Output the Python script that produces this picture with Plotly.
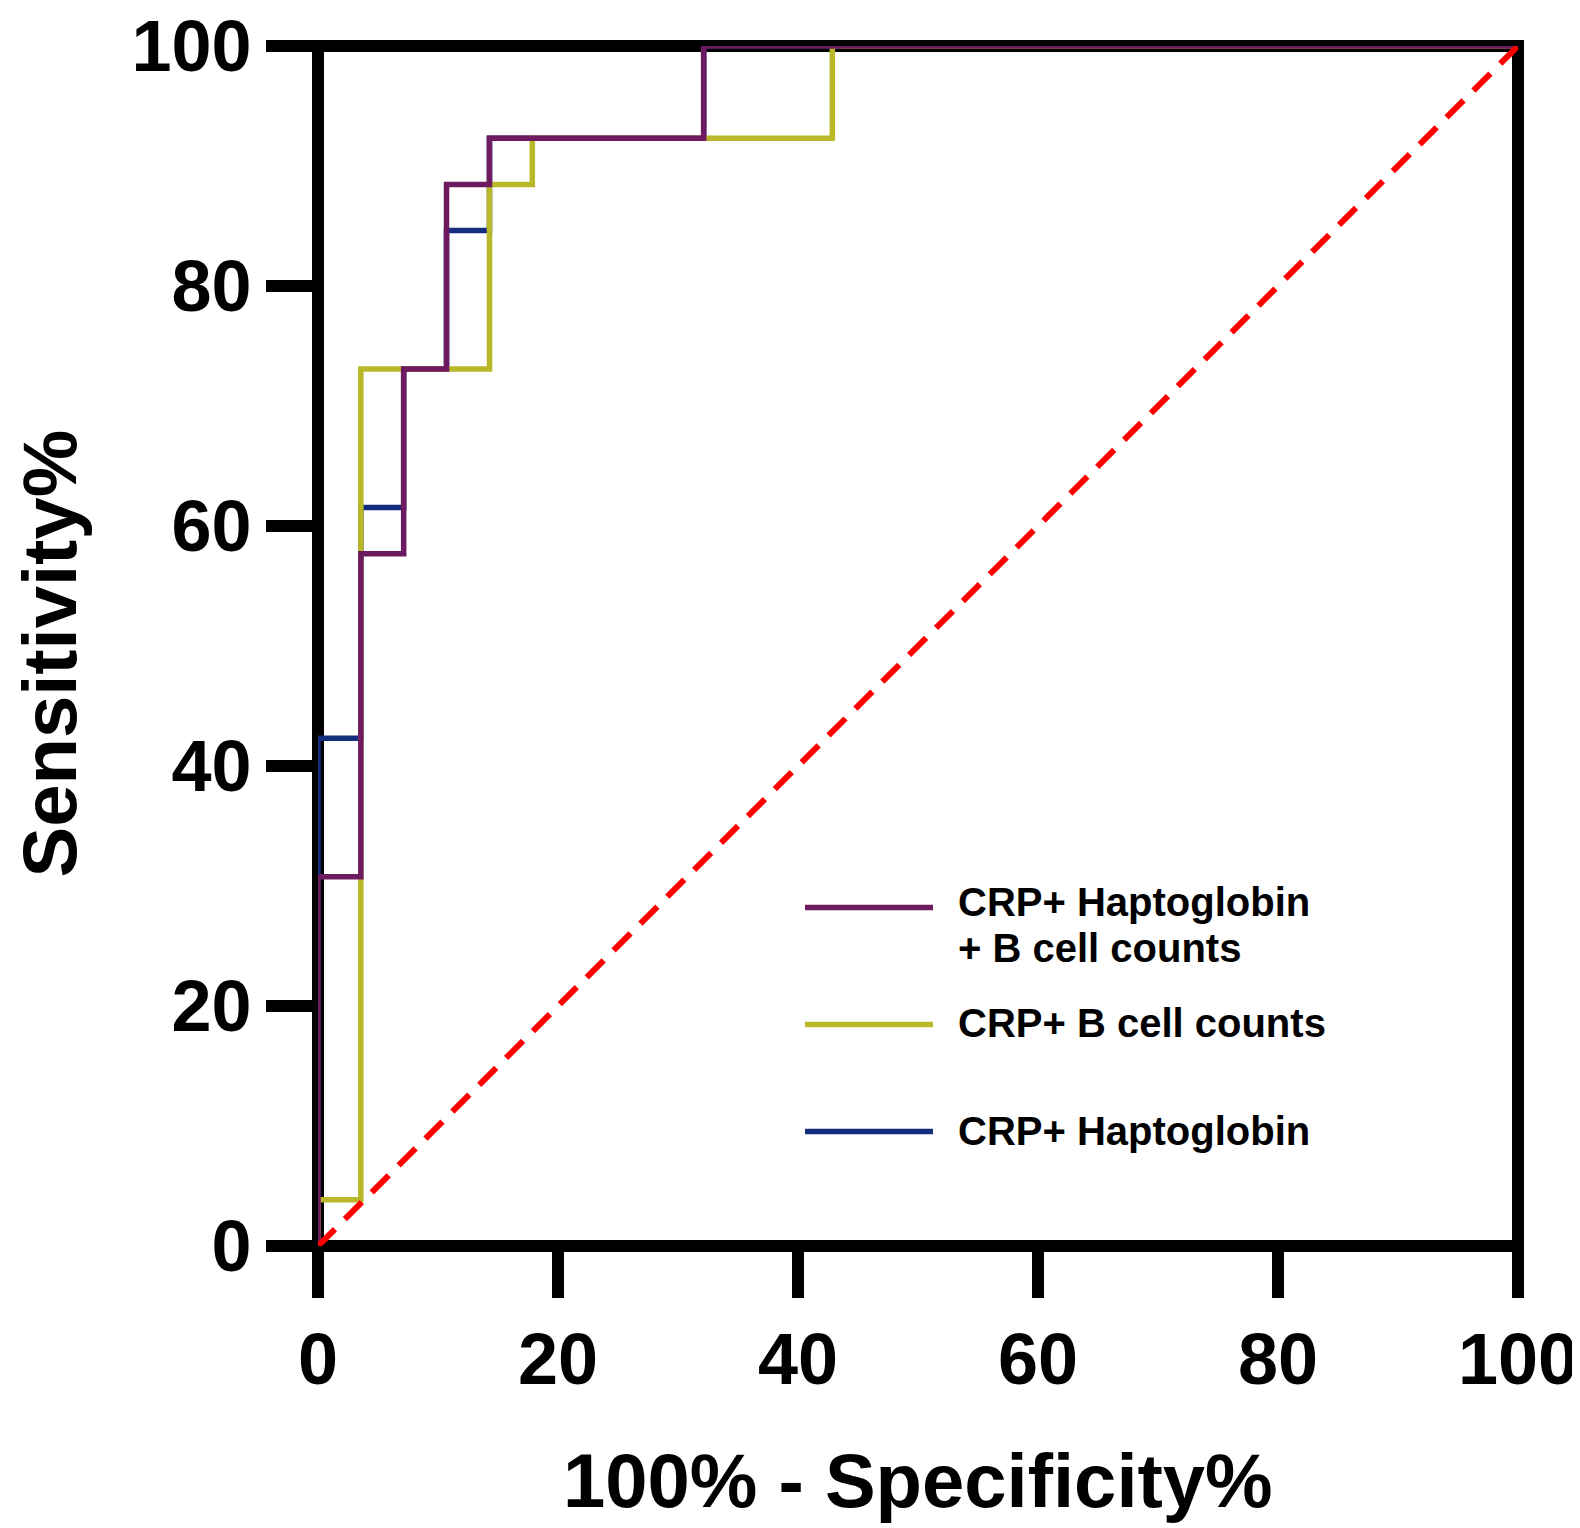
import plotly.graph_objects as go

# ROC step points (100% - Specificity %, Sensitivity %)
fpr_all = [0, 0, 3.57, 7.14, 10.71, 14.29, 32.14, 100]
tpr_all = [0, 30.77, 57.69, 73.08, 88.46, 92.31, 100, 100]

fpr_crp_b = [0, 0, 3.57, 14.29, 17.86, 42.86, 100]
tpr_crp_b = [0, 3.85, 73.08, 88.46, 92.31, 100, 100]

fpr_crp_h = [0, 0, 3.57, 7.14, 10.71, 14.29, 32.14, 100]
tpr_crp_h = [0, 42.31, 61.54, 73.08, 84.62, 92.31, 100, 100]

ref_x = [0, 100]
ref_y = [0, 100]

tick_vals = [0, 20, 40, 60, 80, 100]
tick_text = ["0", "20", "40", "60", "80", "100"]

colors = ["#6E1A60", "#B9B829", "#142D7D"]

FONT = "Liberation Sans, Arial, sans-serif"

fig = go.Figure()
fig.add_trace(go.Scatter(x=fpr_crp_h, y=tpr_crp_h, mode="lines", line=dict(color=colors[2], width=5.5, shape="hv"), showlegend=False))
fig.add_trace(go.Scatter(x=fpr_crp_b, y=tpr_crp_b, mode="lines", line=dict(color=colors[1], width=5.5, shape="hv"), showlegend=False))
fig.add_trace(go.Scatter(x=fpr_all, y=tpr_all, mode="lines", line=dict(color=colors[0], width=5.5, shape="hv"), showlegend=False))
fig.add_trace(go.Scatter(x=ref_x, y=ref_y, mode="lines", line=dict(color="#FF0000", width=6, dash="24px,14px"), showlegend=False))

axis_common = dict(
    range=[0, 100], tickvals=tick_vals, ticktext=tick_text,
    ticks="outside", ticklen=51, tickwidth=12, tickcolor="black",
    showline=False, showgrid=False, zeroline=False,
    ticklabeloverflow="allow", automargin=False,
    tickfont=dict(family=FONT, size=72, color="black", weight="bold"),
)

fig.update_layout(
    width=1580, height=1528,
    margin=dict(l=310, r=70, t=38, b=290, pad=0, autoexpand=False),
    paper_bgcolor="white", plot_bgcolor="white",
    xaxis=dict(**axis_common),
    yaxis=dict(**axis_common),
    showlegend=False,
)

# frame around the plotting area
fig.add_shape(type="rect", xref="paper", yref="paper", x0=0, x1=1, y0=0, y1=1,
              line=dict(color="black", width=12), layer="below")

def px2x(px):
    return (px - 310) / 1200.0

def py2y(py):
    return (1237.5 - py) / 1200.0

# legend drawn manually
legend_rows = [
    (899, [(893, "CRP+ Haptoglobin"), (939, "+ B cell counts")]),
    (1016, [(1014, "CRP+ B cell counts")]),
    (1123, [(1122, "CRP+ Haptoglobin")]),
]
for i, (ly, texts) in enumerate(legend_rows):
    fig.add_shape(type="line", xref="paper", yref="paper",
                  x0=px2x(797), x1=px2x(925), y0=py2y(ly), y1=py2y(ly),
                  line=dict(color=colors[i], width=5.5))
    for ty, t in texts:
        fig.add_annotation(xref="paper", yref="paper", x=px2x(948), y=py2y(ty),
                           xanchor="left", yanchor="middle", text=t, showarrow=False,
                           font=dict(family=FONT, size=40, color="black", weight="bold"))

# axis titles
fig.add_annotation(xref="paper", yref="paper", x=px2x(910), y=py2y(1472),
                   xanchor="center", yanchor="middle", text="100% - Specificity%", showarrow=False,
                   font=dict(family=FONT, size=76, color="black", weight="bold"))
fig.add_annotation(xref="paper", yref="paper", x=px2x(41), y=py2y(645),
                   xanchor="center", yanchor="middle", text="Sensitivity%", showarrow=False, textangle=-90,
                   font=dict(family=FONT, size=76, color="black", weight="bold"))

fig.write_html("out.html")
